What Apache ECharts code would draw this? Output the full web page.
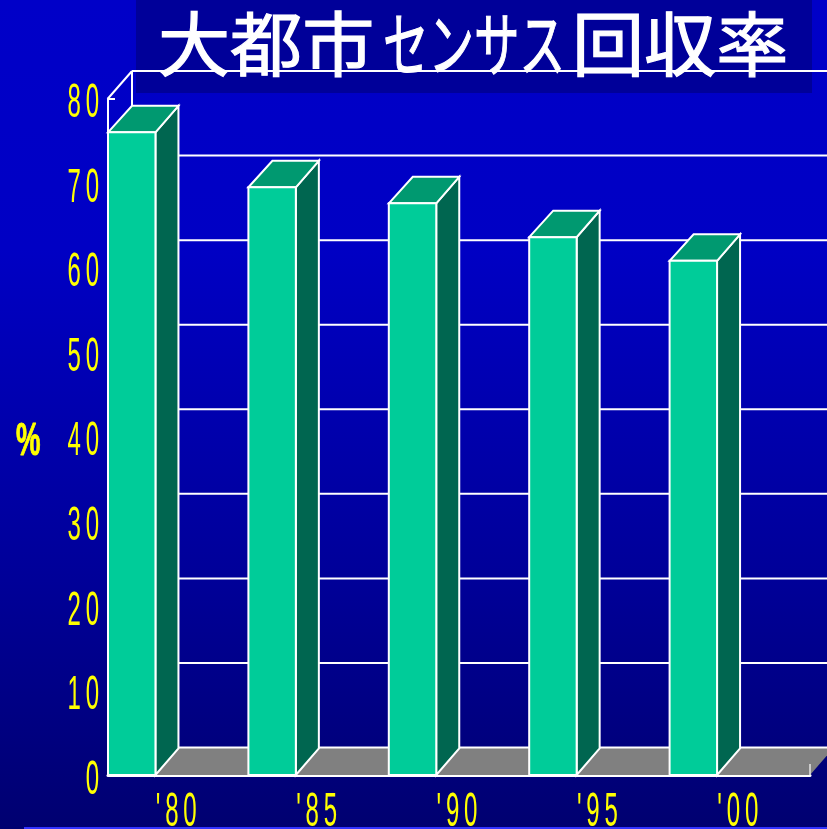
<!DOCTYPE html>
<html><head><meta charset="utf-8">
<style>html,body{margin:0;padding:0;background:#000070}#c{width:827px;height:829px}</style>
<script src="https://cdn.jsdelivr.net/npm/echarts@6/dist/echarts.min.js"></script>
</head><body><div id="c"></div>
<script>
const categories = ["'80", "'85", "'90", "'95", "'00"];
const rates = [76, 69.5, 67.6, 63.6, 60.8];
const yTicks = [0, 10, 20, 30, 40, 50, 60, 70, 80];
const DX = 24, DY = -27.5;
const WHITE = '#ffffff';
const chart = echarts.init(document.getElementById('c'));
const spaced = s => s.split('').join('\u2009');

function frontWall(params, api) {
  const v = api.value(0);
  const p = api.coord([0, v]);
  const left = p[0] - api.size([1, 0])[0] / 2;
  const x0 = left + DX, y = p[1] + DY;
  return {type: 'line', shape: {x1: x0, y1: y, x2: x0 + 720, y2: y}, style: {stroke: WHITE, lineWidth: 2}};
}
function frame(params, api) {
  const a = api.coord([0, 0]), b = api.coord([0, 80]), c = api.coord([4, 0]);
  const half = api.size([1, 0])[0] / 2;
  const l = a[0] - half, r = c[0] + half;
  return {type: 'group', children: [
    {type: 'polygon', shape: {points: [[l, a[1]], [r, a[1]], [r + DX, a[1] + DY], [l + DX, a[1] + DY]]},
     style: {fill: '#808080'}},
    {type: 'line', shape: {x1: l + DX, y1: b[1] + DY, x2: l + DX, y2: a[1] + DY}, style: {stroke: WHITE, lineWidth: 2}},
    {type: 'line', shape: {x1: l, y1: b[1], x2: l + DX, y2: b[1] + DY}, style: {stroke: WHITE, lineWidth: 2}},
    {type: 'line', shape: {x1: l, y1: a[1], x2: l + DX, y2: a[1] + DY}, style: {stroke: WHITE, lineWidth: 2}},
    {type: 'line', shape: {x1: r, y1: a[1], x2: r, y2: a[1] - 11}, style: {stroke: '#cccccc', lineWidth: 2}}
  ]};
}
function bar3d(params, api) {
  const i = api.value(0), v = api.value(1);
  const top = api.coord([i, v]), base = api.coord([i, 0]);
  const band = api.size([1, 0])[0];
  const l = top[0] - band / 2, w = band * 0.338, r = l + w;
  const st = f => ({fill: f, stroke: WHITE, lineWidth: 2, lineJoin: 'miter'});
  return {type: 'group', children: [
    {type: 'polygon', shape: {points: [[r, top[1]], [r + 23, top[1] - 26.5], [r + 23, base[1] - 26.5], [r, base[1]]]}, style: st('#006650')},
    {type: 'polygon', shape: {points: [[l, top[1]], [l + 24, top[1] - 26.5], [r + 23, top[1] - 26.5], [r, top[1]]]}, style: st('#009970')},
    {type: 'rect', shape: {x: l, y: top[1], width: w, height: base[1] - top[1]}, style: st('#00cc99')}
  ]};
}
function yLabel(params, api) {
  const p = api.coord([0, api.value(0)]);
  const left = p[0] - api.size([1, 0])[0] / 2;
  return {type: 'text', x: left - 9, y: p[1] + 5.5, scaleX: 0.5,
    style: {text: spaced(String(api.value(0))), fill: '#ffff00', textAlign: 'right', textVerticalAlign: 'middle',
      font: '48px "Liberation Sans"'}};
}
function xLabel(params, api) {
  const i = api.value(0);
  const p = api.coord([i, 0]);
  return {type: 'text', x: p[0] - 2, y: p[1] + 38, scaleX: 0.5,
    style: {text: spaced(categories[i]), fill: '#ffff00', textAlign: 'center', textVerticalAlign: 'middle',
      font: '48px "Liberation Sans"'}};
}
const titleFont = '400 70px "Noto Sans CJK JP"';
const txt = (t, x, sx) => ({type: 'text', x: x, y: 44, scaleX: sx, z: 20,
  style: {text: t, fill: WHITE, stroke: WHITE, lineWidth: 1.2, textAlign: 'left', textVerticalAlign: 'middle', font: titleFont}});

chart.setOption({
  animation: false,
  backgroundColor: {type: 'linear', x: 0, y: 0, x2: 0, y2: 1, colorStops: [
    {offset: 0, color: '#0000c8'}, {offset: 0.3, color: '#0000c4'}, {offset: 0.7, color: '#000098'}, {offset: 1, color: '#000070'}]},
  grid: {left: 108, right: 17, top: 98.5, bottom: 54},
  xAxis: {type: 'category', data: categories, boundaryGap: true,
    axisLine: {show: true, lineStyle: {color: WHITE, width: 3}}, axisTick: {show: false}, axisLabel: {show: false}, splitLine: {show: false}},
  yAxis: {type: 'value', min: 0, max: 80, interval: 10,
    axisLine: {show: true, lineStyle: {color: WHITE, width: 2}}, axisTick: {show: true, inside: true, length: 7, lineStyle: {color: WHITE, width: 2}},
    axisLabel: {show: false}, splitLine: {show: false}},
  graphic: [
    {type: 'rect', left: 136, top: 0, shape: {width: 676, height: 93}, style: {fill: '#000099'}, z: 1},
    {type: 'rect', left: 24, top: 827, shape: {width: 803, height: 2}, style: {fill: '#3333ff'}, z: 1},
    txt('大都市', 158, 1.03), txt('センサス', 383, 0.65), txt('回収率', 572, 1.03),
    {type: 'text', x: 16, y: 442, scaleX: 0.6, z: 20,
      style: {text: '%', fill: '#ffff00', stroke: '#ffff00', lineWidth: 1, textAlign: 'left', textVerticalAlign: 'middle', font: 'bold 46px "Liberation Sans"'}}
  ],
  series: [
    {type: 'custom', name: 'frame', coordinateSystem: 'cartesian2d', clip: false, z: 2, silent: true, data: [[0]], renderItem: frame},
    {type: 'custom', name: 'grid', coordinateSystem: 'cartesian2d', clip: false, z: 3, silent: true, data: yTicks.map(v => [v]), renderItem: frontWall},
    {type: 'custom', name: '回収率', coordinateSystem: 'cartesian2d', clip: false, z: 5, silent: true, data: rates.map((v, i) => [i, v]), encode: {x: 0, y: 1}, renderItem: bar3d},
    {type: 'custom', name: 'yLabels', coordinateSystem: 'cartesian2d', clip: false, z: 6, silent: true, data: yTicks.map(v => [v]), renderItem: yLabel},
    {type: 'custom', name: 'xLabels', coordinateSystem: 'cartesian2d', clip: false, z: 6, silent: true, data: categories.map((c, i) => [i]), renderItem: xLabel}
  ]
});
</script></body></html>
